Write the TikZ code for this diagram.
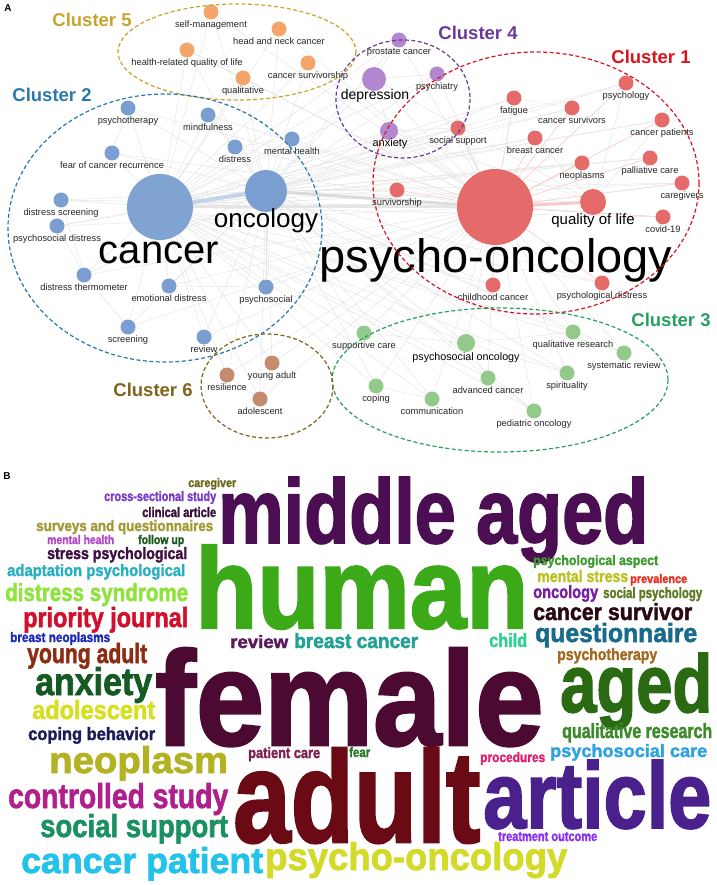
\documentclass[tikz,border=0pt]{standalone}
\usepackage{graphicx}
\usepackage{fontspec}
\setmainfont{Liberation Sans}
\newfontfamily\wcfont[BoldFeatures={FakeBold=2}]{Liberation Sans}
\usepackage{xcolor}
\usetikzlibrary{positioning,backgrounds}
% panel A colours
\definecolor{RedN}{RGB}{229,107,107}
\definecolor{BlueN}{RGB}{122,158,207}
\definecolor{GreenN}{RGB}{147,201,138}
\definecolor{PurpN}{RGB}{178,135,208}
\definecolor{OranN}{RGB}{244,165,106}
\definecolor{BrowN}{RGB}{197,139,110}
\definecolor{RedC}{RGB}{216,20,30}
\definecolor{BlueC}{RGB}{42,120,176}
\definecolor{GreenC}{RGB}{38,160,96}
\definecolor{PurpC}{RGB}{106,58,154}
\definecolor{GoldC}{RGB}{201,163,42}
\definecolor{BrowC}{RGB}{128,100,26}
% panel B colours
\definecolor{wOliveD}{RGB}{107,106,26}
\definecolor{wViolet}{RGB}{122,60,200}
\definecolor{wPlumD}{RGB}{58,14,58}
\definecolor{wKhaki}{RGB}{163,154,53}
\definecolor{wOrchid}{RGB}{181,72,200}
\definecolor{wFollow}{RGB}{30,90,32}
\definecolor{wPlum}{RGB}{62,16,66}
\definecolor{wTeal}{RGB}{41,175,194}
\definecolor{wLime}{RGB}{144,226,60}
\definecolor{wRed}{RGB}{208,16,44}
\definecolor{wBlue}{RGB}{28,40,184}
\definecolor{wRust}{RGB}{140,44,18}
\definecolor{wForest}{RGB}{20,90,34}
\definecolor{wYellow}{RGB}{214,224,34}
\definecolor{wNavy}{RGB}{28,28,88}
\definecolor{wOlive}{RGB}{178,178,34}
\definecolor{wMagenta}{RGB}{176,32,140}
\definecolor{wSea}{RGB}{27,144,98}
\definecolor{wCyan}{RGB}{34,194,234}
\definecolor{wWine}{RGB}{126,32,82}
\definecolor{wFear}{RGB}{31,122,34}
\definecolor{wMiddle}{RGB}{76,14,82}
\definecolor{wHuman}{RGB}{60,170,24}
\definecolor{wFemale}{RGB}{76,10,50}
\definecolor{wAdult}{RGB}{106,10,20}
\definecolor{wAged}{RGB}{42,106,18}
\definecolor{wArticle}{RGB}{74,32,140}
\definecolor{wPsyOnc}{RGB}{212,218,42}
\definecolor{wTreat}{RGB}{138,48,240}
\definecolor{wPink}{RGB}{224,32,108}
\definecolor{wSky}{RGB}{46,162,226}
\definecolor{wQual}{RGB}{60,138,42}
\definecolor{wAspect}{RGB}{60,156,48}
\definecolor{wStress}{RGB}{184,194,34}
\definecolor{wPrev}{RGB}{232,48,32}
\definecolor{wOnc}{RGB}{122,30,162}
\definecolor{wSocPsy}{RGB}{92,122,34}
\definecolor{wSurv}{RGB}{42,10,18}
\definecolor{wQuest}{RGB}{26,106,140}
\definecolor{wTherapy}{RGB}{160,106,32}
\definecolor{wChild}{RGB}{48,208,146}
\definecolor{wReview}{RGB}{90,26,92}
\definecolor{wBreast}{RGB}{34,162,146}
\tikzset{
  kw/.style={circle,inner sep=0pt,minimum size=15pt},
  c1/.style={kw,fill=RedN},
  c2/.style={kw,fill=BlueN},
  c3/.style={kw,fill=GreenN},
  c4/.style={kw,fill=PurpN},
  c5/.style={kw,fill=OranN},
  c6/.style={kw,fill=BrowN},
  lbl/.style={inner sep=0pt,text=black!85,font=\fontsize{9.3}{10}\selectfont},
  biglbl/.style={inner sep=0pt,anchor=base,text=black},
  clu/.style={dash pattern=on 4pt off 2.5pt,line width=1.2pt},
  ctitle/.style={inner sep=0pt,font=\fontsize{18.5}{20}\selectfont\bfseries},
  edge/.style={gray!22,line width=.45pt},
  wc/.style={anchor=base west,inner sep=0pt},
}
\newcommand{\wfit}[3]{\resizebox{#1pt}{#2pt}{\wcfont\bfseries #3}}

\begin{document}
\begin{tikzpicture}[x=1pt,y=-1pt]
  \useasboundingbox (0,0) rectangle (716,885);
  \node[font=\fontsize{10}{10}\selectfont\bfseries] (tagA) at (8,8) {A};

  % cluster 5
  \node[c5] (selfm) at (211,12) {};
  \node[c5] (headneck) at (279,29) {};
  \node[c5] (hrqol) at (187,50) {};
  \node[c5] (csship) at (308,63) {};
  \node[c5] (qualit) at (243,78) {};
  \node[lbl,below=1pt of selfm] {self-management};
  \node[lbl,below=1pt of headneck] {head and neck cancer};
  \node[lbl,below=1pt of hrqol] {health-related quality of life};
  \node[lbl,below=1pt of csship] {cancer survivorship};
  \node[lbl,below=1pt of qualit] {qualitative};

  % cluster 2
  \node[c2] (psyther) at (128,108) {};
  \node[c2] (mindf) at (208,115) {};
  \node[c2] (distr) at (235,147) {};
  \node[c2] (menth) at (292,139) {};
  \node[c2] (fcr) at (112,153) {};
  \node[c2,minimum size=66pt,fill opacity=.95] (cancer) at (160,207) {};
  \node[c2,minimum size=42pt] (oncol) at (266,191) {};
  \node[c2] (dscreen) at (61,200) {};
  \node[c2] (psdist) at (57,226) {};
  \node[c2] (dtherm) at (84,275) {};
  \node[c2] (emodist) at (169,286) {};
  \node[c2] (psysoc) at (266,287) {};
  \node[c2] (screen) at (128,327) {};
  \node[c2] (review) at (204,337) {};
  \node[lbl,below=1pt of psyther] {psychotherapy};
  \node[lbl,below=1pt of mindf] {mindfulness};
  \node[lbl,below=1pt of distr] {distress};
  \node[lbl,below=1pt of menth] {mental health};
  \node[lbl,below=1pt of fcr] {fear of cancer recurrence};
  \node[lbl,below=1pt of dscreen] {distress screening};
  \node[lbl,below=1pt of psdist] {psychosocial distress};
  \node[lbl,below=1pt of dtherm] {distress thermometer};
  \node[lbl,below=1pt of emodist] {emotional distress};
  \node[lbl,below=1pt of psysoc] {psychosocial};
  \node[lbl,below=1pt of screen] {screening};
  \node[lbl,below=1pt of review] {review};

  % cluster 4
  \node[c4] (prost) at (399,40) {};
  \node[c4,minimum size=24pt] (depr) at (374,79) {};
  \node[c4] (psychia) at (437,74) {};
  \node[c4,minimum size=18pt] (anx) at (389,131) {};
  \node[lbl,below=1pt of prost] {prostate cancer};
  \node[lbl,below=1pt of psychia] {psychiatry};

  % cluster 1
  \node[c1] (psychol) at (626,83) {};
  \node[c1] (fatig) at (514,98) {};
  \node[c1] (csurv) at (572,108) {};
  \node[c1] (cpat) at (662,120) {};
  \node[c1] (socsup) at (458,128) {};
  \node[c1] (breast) at (535,138) {};
  \node[c1] (neopl) at (582,163) {};
  \node[c1] (pallc) at (650,158) {};
  \node[c1] (careg) at (682,183) {};
  \node[c1] (survship) at (397,190) {};
  \node[c1,minimum size=76pt] (psyonc) at (495,207) {};
  \node[c1,minimum size=26pt] (qol) at (593,202) {};
  \node[c1] (covid) at (663,217) {};
  \node[c1] (childh) at (493,285) {};
  \node[c1] (psydist) at (602,283) {};
  \node[lbl,below=1pt of psychol] {psychology};
  \node[lbl,below=1pt of fatig] {fatigue};
  \node[lbl,below=1pt of csurv] {cancer survivors};
  \node[lbl,below=1pt of cpat] {cancer patients};
  \node[lbl,below=1pt of socsup] {social support};
  \node[lbl,below=1pt of breast] {breast cancer};
  \node[lbl,below=1pt of neopl] {neoplasms};
  \node[lbl,below=1pt of pallc] {palliative care};
  \node[lbl,below=1pt of careg] {caregivers};
  \node[lbl,below=1pt of survship] {survivorship};
  \node[lbl,below=1pt of covid] {covid-19};
  \node[lbl,below=1pt of childh] {childhood cancer};
  \node[lbl,below=1pt of psydist] {psychological distress};

  % cluster 3
  \node[c3] (suppc) at (364,333) {};
  \node[c3,minimum size=18pt] (psoconc) at (466,343) {};
  \node[c3] (qualres) at (573,332) {};
  \node[c3] (sysrev) at (624,353) {};
  \node[c3] (coping) at (376,386) {};
  \node[c3] (advc) at (488,378) {};
  \node[c3] (spirit) at (567,373) {};
  \node[c3] (comm) at (432,399) {};
  \node[c3] (pedonc) at (534,411) {};
  \node[lbl,below=1pt of suppc] {supportive care};
  \node[lbl,below=1pt of qualres] {qualitative research};
  \node[lbl,below=1pt of sysrev] {systematic review};
  \node[lbl,below=1pt of coping] {coping};
  \node[lbl,below=1pt of advc] {advanced cancer};
  \node[lbl,below=1pt of spirit] {spirituality};
  \node[lbl,below=1pt of comm] {communication};
  \node[lbl,below=1pt of pedonc] {pediatric oncology};

  % cluster 6
  \node[c6] (youngad) at (272,363) {};
  \node[c6] (resil) at (227,375) {};
  \node[c6] (adolesc) at (260,399) {};
  \node[lbl,below=1pt of youngad] {young adult};
  \node[lbl,below=1pt of resil] {resilience};
  \node[lbl,below=1pt of adolesc] {adolescent};

  % big keyword labels
  \node[biglbl,font=\fontsize{40}{40}\selectfont] (lcancer) at (159,263) {cancer};
  \node[biglbl,font=\fontsize{26}{26}\selectfont] (loncol) at (266,228) {oncology};
  \node[biglbl,font=\fontsize{47}{47}\selectfont] (lpsyonc) at (496,272) {psycho-oncology};
  \node[biglbl,font=\fontsize{14}{14}\selectfont] (ldepr) at (375,100) {depression};
  \node[biglbl,font=\fontsize{11}{11}\selectfont] (lanx) at (390,147) {anxiety};
  \node[biglbl,font=\fontsize{15}{15}\selectfont] (lqol) at (593,225) {quality of life};
  \node[biglbl,font=\fontsize{10.7}{11}\selectfont] (lpsoconc) at (466,360) {psychosocial oncology};

  % cluster outlines and titles
  \draw[clu,GoldC] (237,52) ellipse [x radius=119,y radius=48];
  \draw[clu,BlueC] (165,228) ellipse [x radius=157,y radius=134];
  \draw[clu,PurpC] (403,99) ellipse [x radius=67,y radius=59];
  \draw[clu,RedC] (536,183) ellipse [x radius=163,y radius=131];
  \draw[clu,GreenC] (500,380) ellipse [x radius=168,y radius=72];
  \draw[clu,BrowC] (267,386) ellipse [x radius=66,y radius=52];
  \node[ctitle,text=GoldC] (t5) at (92,20) {Cluster 5};
  \node[ctitle,text=BlueC] (t2) at (52,95) {Cluster 2};
  \node[ctitle,text=PurpC] (t4) at (478,33) {Cluster 4};
  \node[ctitle,text=RedC] (t1) at (651,57) {Cluster 1};
  \node[ctitle,text=GreenC] (t3) at (671,320) {Cluster 3};
  \node[ctitle,text=BrowC] (t6) at (153,390) {Cluster 6};

  % co-occurrence links
  \begin{scope}[on background layer]
    \foreach \h in {cancer,oncol,psyonc}
      \foreach \k in {selfm,headneck,hrqol,csship,qualit,psyther,mindf,distr,menth,fcr,
                      dscreen,psdist,dtherm,emodist,psysoc,screen,review,prost,depr,psychia,anx,
                      psychol,fatig,csurv,cpat,socsup,breast,neopl,pallc,careg,survship,qol,covid,
                      childh,psydist,suppc,psoconc,qualres,sysrev,coping,advc,spirit,comm,pedonc,
                      youngad,resil,adolesc}
        \draw[edge] (\h) -- (\k);
    \foreach \a/\b in {depr/anx,depr/prost,depr/psychia,anx/socsup,anx/qol,depr/qol,
                       qol/cpat,qol/psychol,qol/neopl,qol/breast,psoconc/suppc,psoconc/advc,
                       psoconc/spirit,psoconc/qualres,advc/pedonc,comm/coping,youngad/adolesc,
                       resil/adolesc,distr/menth,distr/mindf,fcr/psyther,dscreen/dtherm,
                       psdist/dtherm,emodist/psysoc,screen/dtherm,csurv/fatig,hrqol/qualit}
      \draw[edge] (\a) -- (\b);
    \foreach \k in {psychol,fatig,csurv,cpat,socsup,breast,neopl,pallc,careg,survship,covid,
                    childh,psydist}
      \draw[red!18,line width=.6pt] (psyonc) -- (\k);
    \draw[BlueN!45,line width=4pt] (cancer) -- (oncol);
    \draw[gray!28,line width=3pt] (oncol) -- (psyonc);
    \draw[gray!20,line width=3pt] (cancer) -- (psyonc);
    \draw[RedN!35,line width=3pt] (psyonc) -- (qol);
  \end{scope}

  % panel B: word cloud
  \node[font=\fontsize{10}{10}\selectfont\bfseries] (tagB) at (7,476) {B};
  \node[wc,text=wOliveD] (wcaregiver) at (188,487) {\wfit{48}{9}{caregiver}};
  \node[wc,text=wViolet] (wcross) at (104,501) {\wfit{112}{10}{cross-sectional study}};
  \node[wc,text=wPlumD] (wclinical) at (142,517) {\wfit{74}{10}{clinical article}};
  \node[wc,text=wKhaki] (wsurveys) at (36,531) {\wfit{177}{11}{surveys and questionnaires}};
  \node[wc,text=wOrchid] (wmenth) at (47,544) {\wfit{67}{9}{mental health}};
  \node[wc,text=wFollow] (wfollow) at (138,544) {\wfit{46}{9}{follow up}};
  \node[wc,text=wPlum] (wstress) at (47,559) {\wfit{140}{12}{stress psychological}};
  \node[wc,text=wTeal] (wadapt) at (7,576) {\wfit{178}{12}{adaptation psychological}};
  \node[wc,text=wLime] (wdistress) at (5,601) {\wfit{183}{18}{distress syndrome}};
  \node[wc,text=wRed] (wpriority) at (23,627) {\wfit{165}{20}{priority journal}};
  \node[wc,text=wBlue] (wbneo) at (10,642) {\wfit{100}{10}{breast neoplasms}};
  \node[wc,text=wRust] (wyoung) at (27,663) {\wfit{120}{20}{young adult}};
  \node[wc,text=wForest] (wanx) at (35,695) {\wfit{117}{28}{anxiety}};
  \node[wc,text=wYellow] (wadol) at (32,719) {\wfit{123}{19}{adolescent}};
  \node[wc,text=wNavy] (wcoping) at (28,740) {\wfit{127}{13}{coping behavior}};
  \node[wc,text=wOlive] (wneopl) at (49,773) {\wfit{179}{27}{neoplasm}};
  \node[wc,text=wMagenta] (wcontrol) at (8,808) {\wfit{220}{25}{controlled study}};
  \node[wc,text=wSea] (wsocsup) at (40,837) {\wfit{188}{23}{social support}};
  \node[wc,text=wCyan] (wcpat) at (21,873) {\wfit{242}{26}{cancer patient}};
  \node[wc,text=wWine] (wpcare) at (248,758) {\wfit{72}{11}{patient care}};
  \node[wc,text=wFear] (wfear) at (349,757) {\wfit{21}{10}{fear}};
  \node[wc,text=wMiddle] (wmiddle) at (218,543) {\wfit{430}{66}{middle aged}};
  \node[wc,text=wHuman] (whuman) at (195,628) {\wfit{333}{83}{human}};
  \node[wc,text=wFemale] (wfemale) at (155,745) {\wfit{388}{97}{female}};
  \node[wc,text=wAdult] (wadult) at (233,842) {\wfit{247}{94}{adult}};
  \node[wc,text=wAged] (waged) at (560,712) {\wfit{152}{59}{aged}};
  \node[wc,text=wArticle] (warticle) at (483,828) {\wfit{228}{68}{article}};
  \node[wc,text=wPsyOnc] (wpsyonc) at (265,870) {\wfit{302}{28}{psycho-oncology}};
  \node[wc,text=wTreat] (wtreat) at (498,841) {\wfit{99}{9}{treatment outcome}};
  \node[wc,text=wPink] (wproc) at (480,762) {\wfit{65}{10}{procedures}};
  \node[wc,text=wSky] (wpsocare) at (550,757) {\wfit{157}{13}{psychosocial care}};
  \node[wc,text=wQual] (wqualres) at (562,738) {\wfit{150}{15}{qualitative research}};
  \node[wc,text=wAspect] (waspect) at (533,565) {\wfit{125}{10}{psychological aspect}};
  \node[wc,text=wStress] (wmstress) at (537,582) {\wfit{91}{12}{mental stress}};
  \node[wc,text=wPrev] (wprev) at (630,583) {\wfit{57}{9}{prevalence}};
  \node[wc,text=wOnc] (wonc) at (533,598) {\wfit{65}{13}{oncology}};
  \node[wc,text=wSocPsy] (wsocpsy) at (603,598) {\wfit{99}{11}{social psychology}};
  \node[wc,text=wSurv] (wcsurv) at (533,620) {\wfit{159}{17}{cancer survivor}};
  \node[wc,text=wQuest] (wquest) at (535,642) {\wfit{162}{19}{questionnaire}};
  \node[wc,text=wTherapy] (wtherapy) at (557,660) {\wfit{100}{12}{psychotherapy}};
  \node[wc,text=wChild] (wchild) at (489,647) {\wfit{38}{14}{child}};
  \node[wc,text=wReview] (wreview) at (230,648) {\wfit{58}{13}{review}};
  \node[wc,text=wBreast] (wbreast) at (294,648) {\wfit{124}{15}{breast cancer}};
\end{tikzpicture}
\end{document}
